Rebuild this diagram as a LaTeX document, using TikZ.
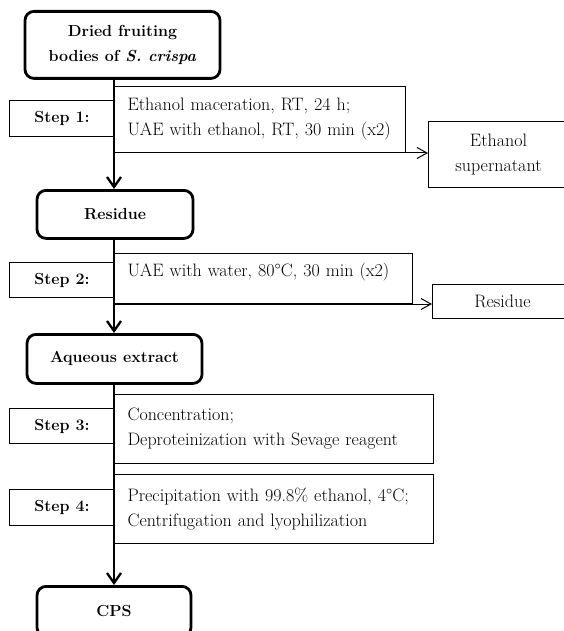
\documentclass[tikz,border=0pt]{standalone}
\usepackage{fontspec}
\usepackage{tikz}
\usetikzlibrary{arrows.meta}

\tikzset{
  stage/.style={draw, rounded corners=9pt, line width=2.8pt,
    font=\fontsize{16}{25}\selectfont\bfseries,
    align=center, anchor=north, inner sep=0pt},
  steplab/.style={draw, line width=1pt, font=\fontsize{16}{25}\selectfont\bfseries,
    anchor=north west, inner sep=0pt, minimum width=105pt},
  cond/.style={draw, line width=1pt, align=left, anchor=north west,
    inner xsep=13pt, inner ysep=0pt},
  prod/.style={draw, line width=1pt, align=center, anchor=north west,
    inner sep=0pt},
  spine/.style={line width=2.3pt, -{Straight Barb[length=10pt,width=14pt,line width=2.3pt]}},
  side/.style={line width=1pt, -{Straight Barb[length=10pt,width=11pt]}}
}

\begin{document}
\begin{tikzpicture}[x=1pt,y=-1pt]
\fontsize{18}{25}\selectfont
\useasboundingbox (0,0) rectangle (564,631);
\coordinate (axis) at (114,0);

% main stages
\node[stage, minimum width=195pt, minimum height=67pt] (dried) at (122.5,10)
  {Dried fruiting\\bodies of \textit{S.~crispa}};
\node[stage, minimum width=156pt, minimum height=48pt] (res) at (115,189) {Residue};
\node[stage, minimum width=175pt, minimum height=49pt] (aq) at (114.5,333) {Aqueous extract};
\node[stage, minimum width=154pt, minimum height=50pt] (cps) at (114,585) {CPS};

% step labels
\node[steplab, minimum height=36pt] (s1) at (9,100) {Step 1:};
\node[steplab, minimum height=35pt] (s2) at (9,262) {Step 2:};
\node[steplab, minimum height=35pt] (s3) at (9,408) {Step 3:};
\node[steplab, minimum height=36pt] (s4) at (9,489) {Step 4:};

% conditions
\node[cond, text width=265pt, minimum height=66pt] (t1) at (114,86)
  {Ethanol maceration, RT, 24 h;\\UAE with ethanol, RT, 30 min (x2)};
\node[cond, text width=272pt, minimum height=50pt, text depth=18pt] (t2) at (114,253)
  {UAE with water, 80°C, 30 min (x2)};
\node[cond, text width=293pt, minimum height=69pt] (t3) at (114,394)
  {Concentration;\\Deproteinization with Sevage reagent};
\node[cond, text width=293pt, minimum height=69pt] (t4) at (114,474)
  {Precipitation with 99.8\% ethanol, 4°C;\\Centrifugation and lyophilization};

% side products
\node[prod, minimum width=140pt, minimum height=66pt] (sup) at (428,121)
  {Ethanol\\supernatant};
\node[prod, minimum width=140pt, minimum height=34pt] (res2) at (432,284) {Residue};

% arrows
\draw[spine] (dried.south -| axis) -- (res.north -| axis);
\draw[spine] (res.south -| axis) -- (aq.north -| axis);
\draw[spine] (aq.south -| axis) -- (cps.north -| axis);
\draw[side] (t1.south west) -- (t1.south west -| sup.west);
\draw[side] (t2.south west) -- (t2.south west -| res2.west);

\end{tikzpicture}
\end{document}
